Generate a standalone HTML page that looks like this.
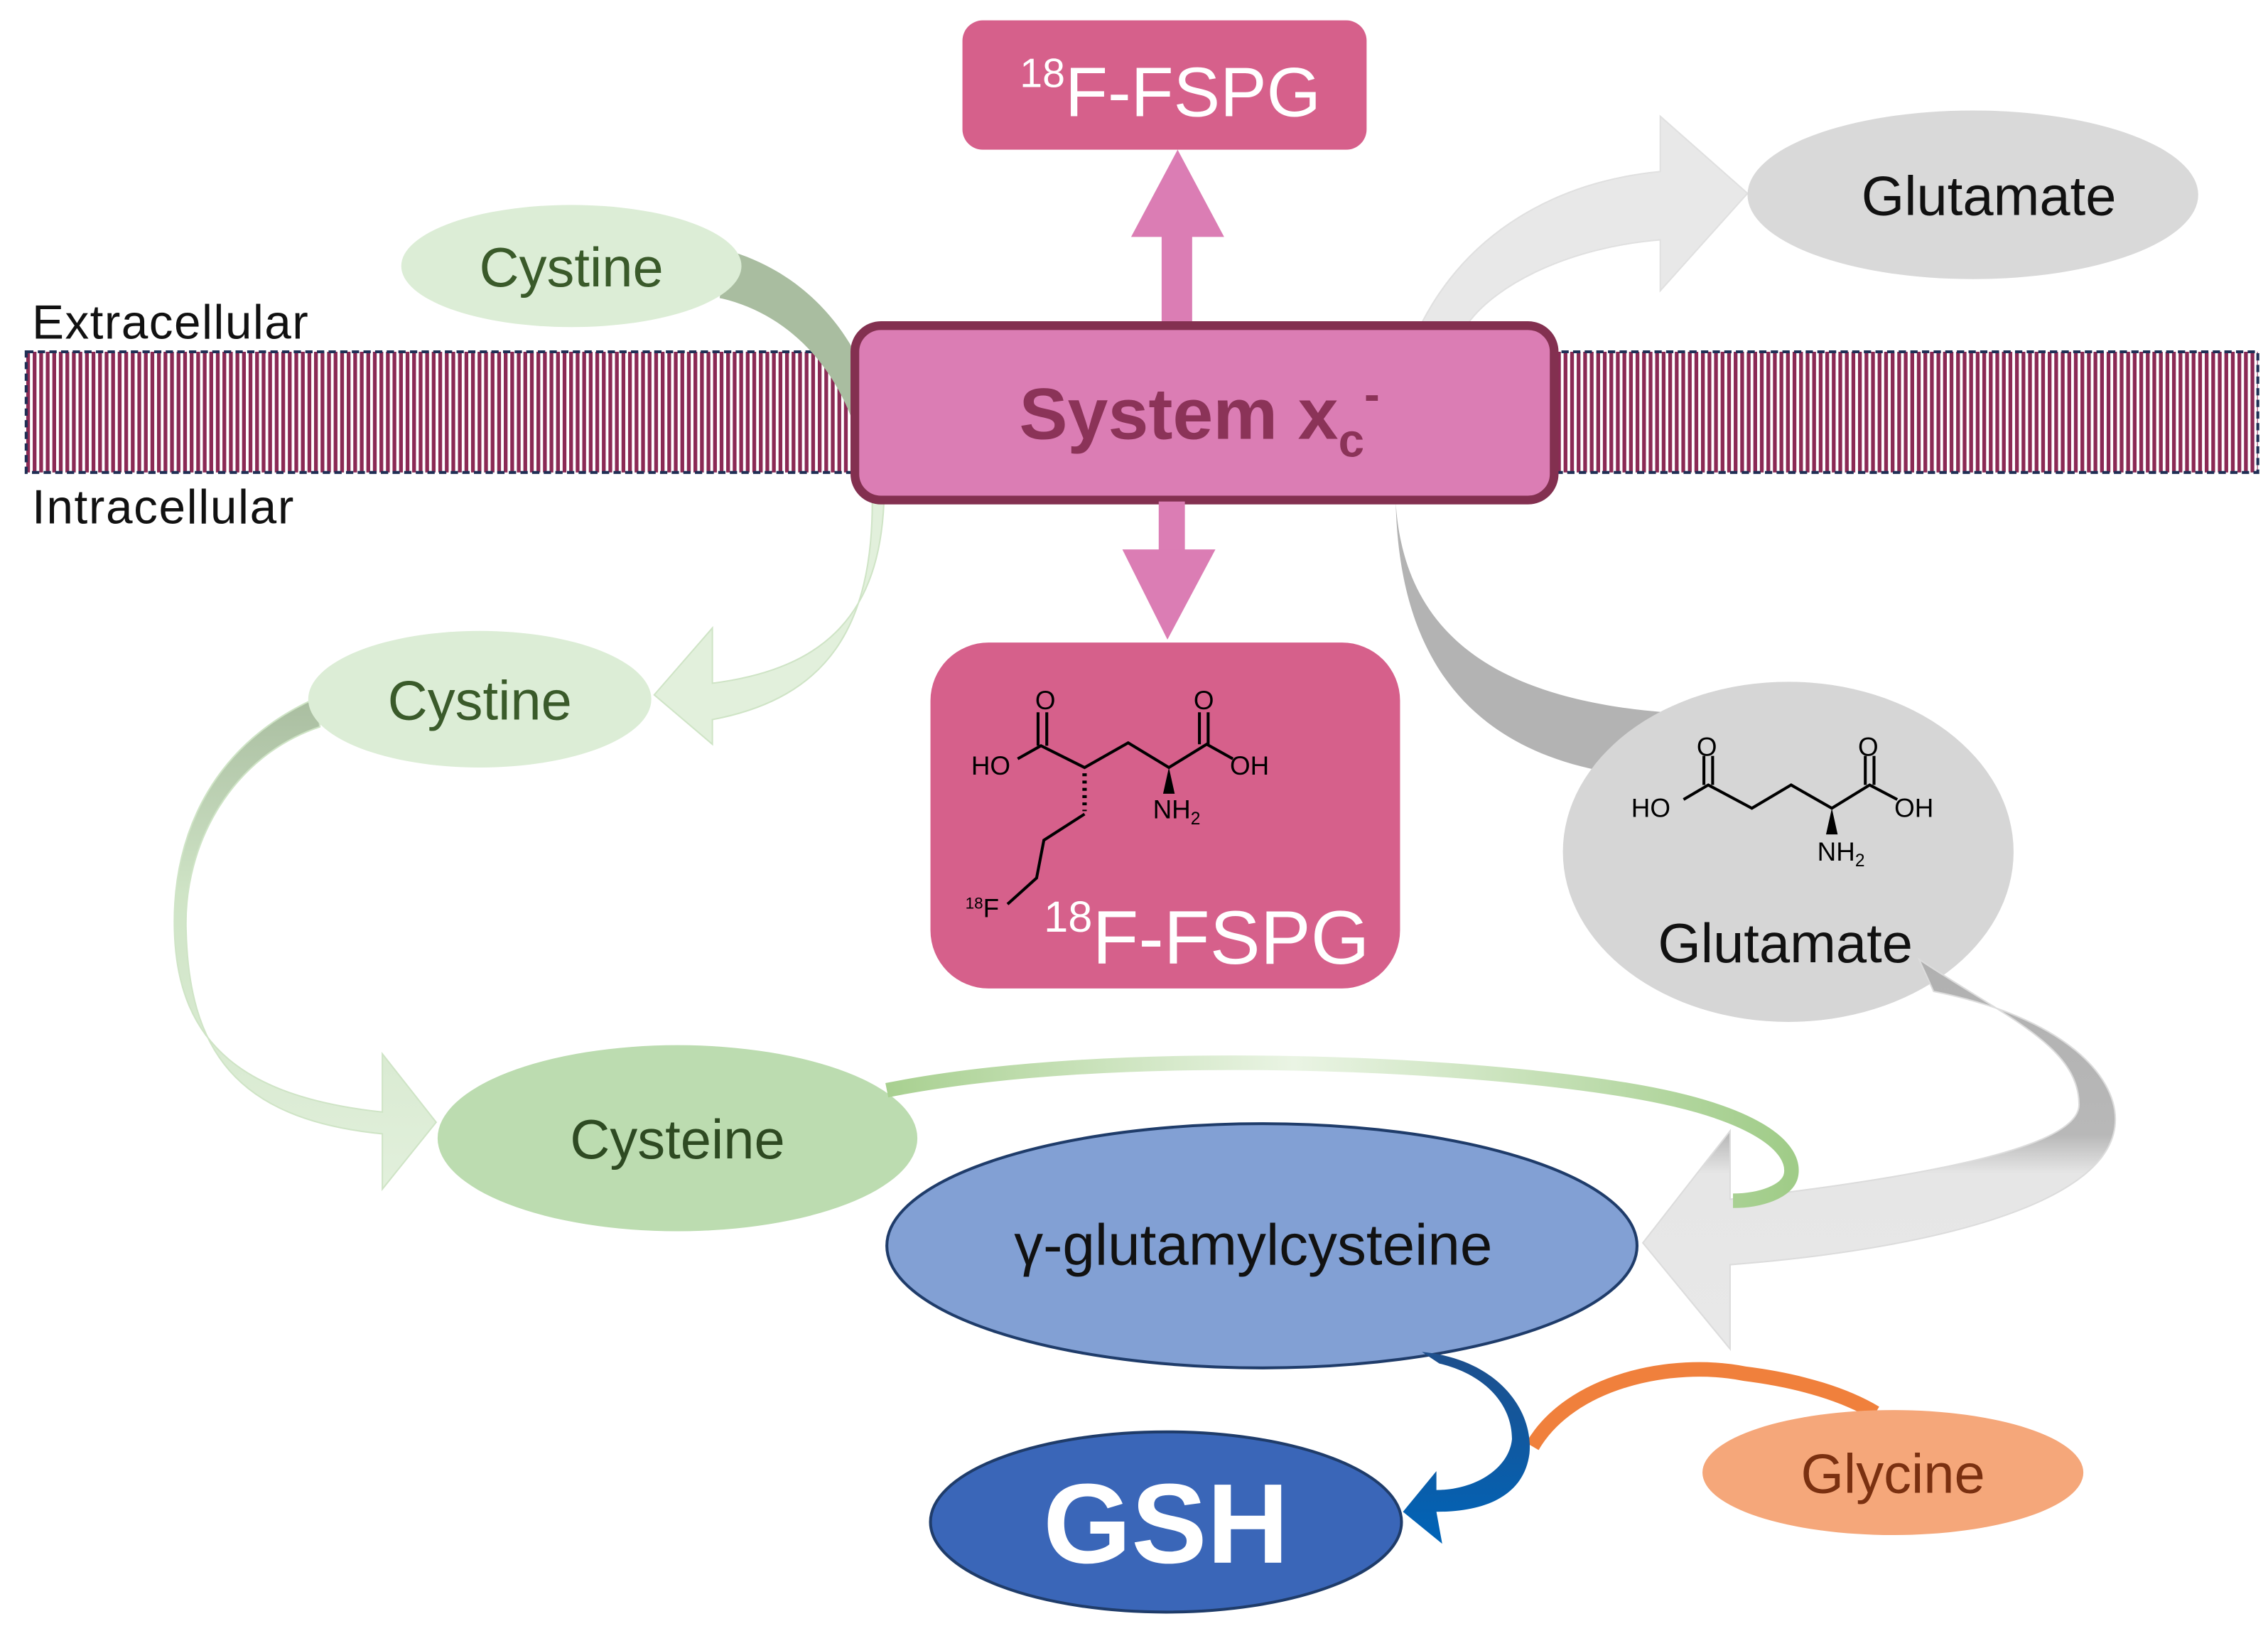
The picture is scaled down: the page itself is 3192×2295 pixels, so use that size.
<!DOCTYPE html>
<html><head><meta charset="utf-8"><style>
html,body{margin:0;padding:0;background:#fff;}
svg{display:block;}
text{font-family:"Liberation Sans","DejaVu Sans",sans-serif;}
</style></head><body>
<svg width="3192" height="2295" viewBox="0 0 1560 1122" preserveAspectRatio="none" xmlns="http://www.w3.org/2000/svg">
<defs>
<pattern id="stripes" width="4.5" height="10" patternUnits="userSpaceOnUse">
<rect width="4.5" height="10" fill="#fff"/>
<rect width="2.6" height="10" fill="#8b2a55"/>
</pattern>
<linearGradient id="gL" x1="0" y1="0" x2="0" y2="1">
<stop offset="0" stop-color="#a9bda0"/><stop offset="0.4" stop-color="#cfe4c6"/><stop offset="1" stop-color="#e2f0dc"/>
</linearGradient>
<linearGradient id="gLine" x1="0" y1="0" x2="1" y2="0">
<stop offset="0" stop-color="#a8d090"/><stop offset="0.45" stop-color="#eaf4e4"/><stop offset="1" stop-color="#a0cc88"/>
</linearGradient>
<linearGradient id="gG" x1="0" y1="0" x2="0" y2="1">
<stop offset="0" stop-color="#b0b0b0"/><stop offset="0.45" stop-color="#b8b8b8"/><stop offset="0.55" stop-color="#e6e6e6"/><stop offset="1" stop-color="#e8e8e8"/>
</linearGradient>
<linearGradient id="gB" x1="0" y1="0" x2="0" y2="1">
<stop offset="0" stop-color="#1e4f8c"/><stop offset="1" stop-color="#0064b8"/>
</linearGradient>
</defs>

<rect x="18" y="242" width="1535" height="83" fill="url(#stripes)" stroke="#1f2f55" stroke-width="2" stroke-dasharray="5,3"/>
<text x="22" y="233" font-size="33" fill="#111" textLength="190">Extracellular</text>
<text x="22" y="360" font-size="33" fill="#111" textLength="180">Intracellular</text>

<path d="M500,172 C545,185 575,215 592,250 L590,300 C575,250 540,215 495,205 Z" fill="#a9bda0"/>

<path d="M978,222 C1010,160 1070,125 1142,118 L1142,80 L1202,133 L1142,200 L1142,165 C1080,170 1030,195 1010,222 Z" fill="#e8e8e8" stroke="#e0e0e0"/>

<rect x="799" y="160" width="21" height="62" fill="#db7db4"/>
<polygon points="810,103 842,163 778,163" fill="#db7db4"/>

<rect x="662" y="14" width="278" height="89" rx="14" fill="#d6608b"/>
<text x="805" y="80" font-size="48" fill="#fff" text-anchor="middle"><tspan font-size="28" dy="-20">18</tspan><tspan dy="20">F-FSPG</tspan></text>

<ellipse cx="393" cy="183" rx="117" ry="42" fill="#dcedd6"/>
<text x="393" y="197" font-size="38" fill="#3a5a2a" text-anchor="middle">Cystine</text>

<ellipse cx="1357" cy="134" rx="155" ry="58" fill="#d9d9d9"/>
<text x="1368" y="148" font-size="38" fill="#111" text-anchor="middle">Glutamate</text>

<path d="M608,345 C605,420 570,460 490,470 L490,432 L450,478 L490,512 L490,495 C570,480 600,430 600,345 Z" fill="#e2f0dc" stroke="#cfe4c6"/>

<path d="M960,345 C965,430 1020,480 1145,490 L1100,530 C1000,510 962,440 960,345 Z" fill="#b3b3b3"/>

<path d="M218,480 C150,510 118,570 120,640 C122,720 170,755 263,765 L263,725 L300,772 L263,818 L263,780 C160,770 130,720 128,640 C126,580 160,520 220,500 Z" fill="url(#gL)" stroke="#cfe4c6"/>

<rect x="588" y="224" width="481" height="120" rx="18" fill="#db7db4" stroke="#833050" stroke-width="6"/>
<text x="825" y="302" font-size="50" font-weight="bold" fill="#8b3358" text-anchor="middle">System x<tspan font-size="32" dy="12">c</tspan><tspan font-size="32" dy="-32">-</tspan></text>

<rect x="797" y="345" width="18" height="36" fill="#db7db4"/>
<polygon points="772,378 836,378 803,440" fill="#db7db4"/>

<rect x="640" y="442" width="323" height="238" rx="40" fill="#d6608b"/>
<g stroke="#000" stroke-width="2" fill="none">
<path d="M700,522 L716,513 L746,528 L776,511 L804,528 L830,512 L848,522"/>
<path d="M714,513 L714,490 M720,513 L720,490"/>
<path d="M825,512 L825,490 M831,512 L831,490"/>
<path d="M746,532 L746,558" stroke-dasharray="2,3" stroke-width="3"/>
<path d="M746,560 L718,578 L713,604 L693,622"/>
</g>
<polygon points="804,528 800,546 808,546" fill="#000"/>
<g font-size="18" fill="#000">
<text x="712" y="488">O</text><text x="821" y="488">O</text>
<text x="668" y="533">HO</text><text x="846" y="533">OH</text>
<text x="793" y="563">NH<tspan font-size="12" dy="4">2</tspan></text>
<text x="664" y="631"><tspan font-size="11" dy="-6">18</tspan><tspan dy="6">F</tspan></text>
</g>
<text x="830" y="663" font-size="52" fill="#fff" text-anchor="middle"><tspan font-size="30" dy="-22">18</tspan><tspan dy="22">F-FSPG</tspan></text>

<ellipse cx="330" cy="481" rx="118" ry="47" fill="#dcedd6"/>
<text x="330" y="495" font-size="38" fill="#3a5a2a" text-anchor="middle">Cystine</text>

<ellipse cx="1230" cy="586" rx="155" ry="117" fill="#d6d6d6"/>
<g stroke="#000" stroke-width="2" fill="none">
<path d="M1158,550 L1175,540 L1205,556 L1232,540 L1260,556 L1286,540 L1305,550"/>
<path d="M1172,540 L1172,520 M1178,540 L1178,520"/>
<path d="M1283,540 L1283,520 M1289,540 L1289,520"/>
</g>
<polygon points="1260,556 1256,574 1264,574" fill="#000"/>
<g font-size="18" fill="#000">
<text x="1167" y="520">O</text><text x="1278" y="520">O</text>
<text x="1122" y="562">HO</text><text x="1303" y="562">OH</text>
<text x="1250" y="592">NH<tspan font-size="12" dy="4">2</tspan></text>
</g>
<text x="1228" y="662" font-size="38" fill="#111" text-anchor="middle">Glutamate</text>

<path d="M1330,682 C1420,700 1455,740 1455,770 C1455,830 1320,860 1190,870 L1190,928 L1130,855 L1190,778 L1190,825 C1320,810 1430,790 1430,760 C1430,720 1380,700 1320,660 Z" fill="url(#gG)" stroke="#dcdcdc"/>

<ellipse cx="466" cy="783" rx="165" ry="64" fill="#bcdcb0"/>
<text x="466" y="797" font-size="38" fill="#2e4a22" text-anchor="middle">Cysteine</text>

<path d="M610,750 C760,720 1000,730 1120,750 C1210,765 1235,790 1232,808 C1230,820 1210,826 1192,826" fill="none" stroke="url(#gLine)" stroke-width="10"/>

<ellipse cx="868" cy="857" rx="258" ry="84" fill="#82a0d4" stroke="#1f3c6a" stroke-width="2"/>
<text x="862" y="870" font-size="40" fill="#111" text-anchor="middle">γ-glutamylcysteine</text>

<path d="M1054,995 C1080,950 1150,935 1200,945 C1240,950 1270,960 1290,972" fill="none" stroke="#f0803c" stroke-width="10"/>

<path d="M978,930 C1030,935 1055,970 1052,1000 C1048,1030 1020,1040 988,1040 L992,1062 L965,1040 L988,1012 L988,1025 C1015,1025 1038,1010 1040,990 C1040,965 1020,945 990,938 Z" fill="url(#gB)"/>

<ellipse cx="802" cy="1047" rx="162" ry="62" fill="#3a66b8" stroke="#1f3c6a" stroke-width="2"/>
<text x="802" y="1075" font-size="78" font-weight="bold" fill="#fff" text-anchor="middle">GSH</text>

<ellipse cx="1302" cy="1013" rx="131" ry="43" fill="#f5a77a"/>
<text x="1302" y="1027" font-size="38" fill="#7a3010" text-anchor="middle">Glycine</text>
</svg>
</body></html>
